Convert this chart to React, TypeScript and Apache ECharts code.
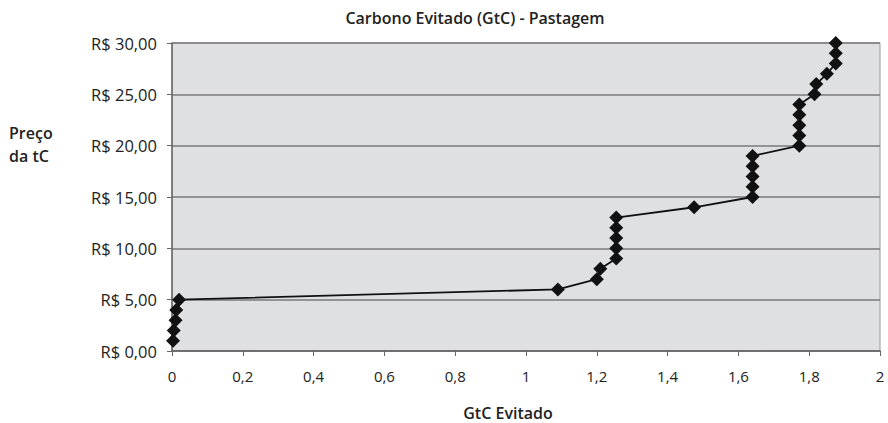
import React, { useEffect, useRef } from "react";
import * as echarts from "echarts";

const gtcAvoided = [
  0.003, 0.005, 0.01, 0.012, 0.02,
  1.09, 1.2, 1.21,
  1.255, 1.255, 1.255, 1.255, 1.255,
  1.475,
  1.64, 1.64, 1.64, 1.64, 1.64,
  1.772, 1.772, 1.772, 1.772, 1.772,
  1.815, 1.82, 1.85, 1.875, 1.875, 1.875,
];
const pricePerTC = [
  1, 2, 3, 4, 5,
  6, 7, 8,
  9, 10, 11, 12, 13,
  14,
  15, 16, 17, 18, 19,
  20, 21, 22, 23, 24,
  25, 26, 27, 28, 29, 30,
];
const chartTitle = "Carbono Evitado (GtC) - Pastagem";
const xAxisTitle = "GtC Evitado";
const yAxisTitle = "Preço\nda tC";

const FONT = "'Open Sans', 'Noto Sans', sans-serif";

export default function App() {
  const ref = useRef<HTMLDivElement>(null);
  useEffect(() => {
    if (!ref.current) return;
    const chart = echarts.init(ref.current, undefined, { renderer: "svg" });
    const data = gtcAvoided.map((x, i) => [x, pricePerTC[i]]);
    chart.setOption({
      animation: false,
      backgroundColor: "#ffffff",
      textStyle: { fontFamily: FONT },
      title: {
        text: chartTitle,
        left: 470,
        top: 5,
        textAlign: "center",
        textStyle: { fontFamily: FONT, fontSize: 16, fontWeight: 600, color: "#222" },
      },
      graphic: [
        {
          type: "text",
          left: 9,
          top: 121,
          style: {
            text: yAxisTitle,
            fontFamily: FONT,
            fontSize: 16,
            fontWeight: 600,
            fill: "#222",
            lineHeight: 23,
          },
        },
        {
          type: "text",
          x: 508,
          y: 413,
          style: {
            text: xAxisTitle,
            fontFamily: FONT,
            fontSize: 16,
            fontWeight: 600,
            fill: "#222",
            align: "center",
            verticalAlign: "middle",
          },
        },
      ],
      grid: {
        left: 172,
        right: 8,
        top: 43,
        bottom: 72,
        outerBoundsMode: "none",
        containLabel: false,
        show: true,
        backgroundColor: "#dfe0e2",
        borderColor: "#9a9a9a",
        borderWidth: 1,
      },
      xAxis: {
        type: "value",
        min: 0,
        max: 2,
        interval: 0.2,
        axisLine: { show: true, onZero: false, lineStyle: { color: "#666", width: 1.5 } },
        axisTick: { show: true, length: 5, lineStyle: { color: "#666" } },
        splitLine: { show: false },
        axisLabel: {
          margin: 17,
          fontFamily: FONT,
          fontSize: 15,
          color: "#222",
          formatter: (v: number) => String(Math.round(v * 10) / 10).replace(".", ","),
        },
      },
      yAxis: {
        type: "value",
        min: 0,
        max: 30,
        interval: 5,
        axisLine: { show: true, lineStyle: { color: "#666", width: 1.5 } },
        axisTick: { show: true, length: 5, lineStyle: { color: "#666" } },
        splitLine: { show: true, lineStyle: { color: "#7a7a7a", width: 1.5 } },
        axisLabel: {
          margin: 15,
          fontFamily: FONT,
          fontSize: 16.5,
          color: "#222",
          formatter: (v: number) => "R$ " + v.toFixed(2).replace(".", ","),
        },
      },
      series: [
        {
          type: "line",
          data,
          symbol: "diamond",
          symbolSize: 14,
          showSymbol: true,
          lineStyle: { color: "#111", width: 1.8 },
          itemStyle: { color: "#111" },
        },
      ],
    });
    return () => chart.dispose();
  }, []);
  return <div ref={ref} style={{ width: 888, height: 423, position: "absolute", left: 0, top: 0 }} />;
}
